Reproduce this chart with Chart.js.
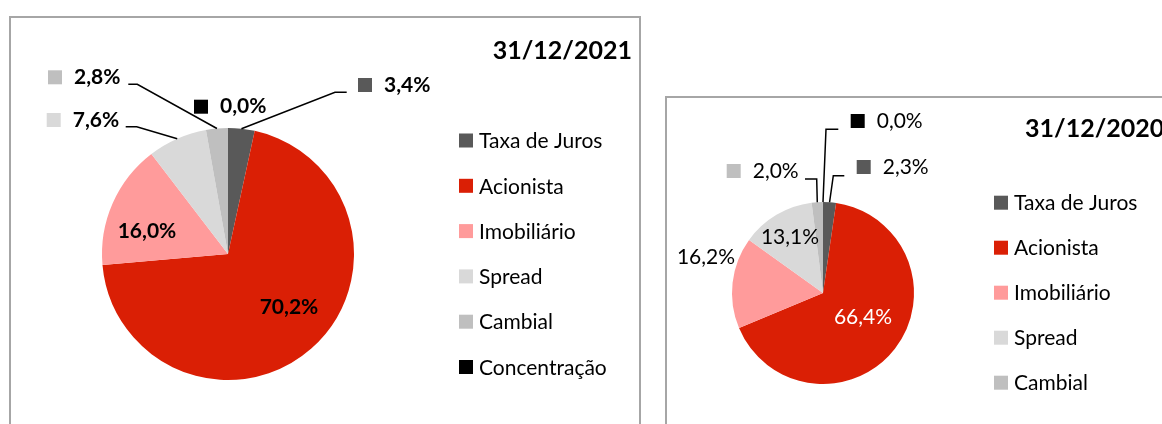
<!DOCTYPE html>
<html>
<head>
<meta charset="utf-8">
<script src="https://cdn.jsdelivr.net/npm/chart.js@4"></script>
<style>
body{margin:0;background:#fff;width:1162px;height:424px;overflow:hidden;position:relative}
.caixa{position:absolute;border:2px solid #a6a6a6;box-sizing:border-box}
canvas{position:absolute;left:0;top:0}
</style>
</head>
<body>
<div class="caixa" style="left:9px;top:16px;width:632px;height:440px"></div>
<div class="caixa" style="left:665px;top:96px;width:540px;height:360px"></div>
<canvas id="graf" width="1162" height="424"></canvas>
<canvas id="graf2" width="1162" height="424"></canvas>
<script>
const categorias = ['Taxa de Juros', 'Acionista', 'Imobiliário', 'Spread', 'Cambial', 'Concentração']
const valores2021 = [3.4, 70.2, 16.0, 7.6, 2.8, 0.0]
const valores2020 = [2.3, 66.4, 16.2, 13.1, 2.0, 0.0]
const cores = ['#595959', '#da1f05', '#ff9b9b', '#d9d9d9', '#bfbfbf', '#000000']
const titulo2021 = '31/12/2021'
const titulo2020 = '31/12/2020'

const fonte = 'Lato, "Open Sans", sans-serif'

function fmt(v){
    return v.toFixed(1).replace('.', ',') + '%'
}

// desenha rotulos, linhas guia, legenda e titulo
const rotulos = {
    id: 'rotulos',
    afterDraw(chart, args, opts){
        const ctx = chart.ctx
        const meta = chart.getDatasetMeta(0)
        const valores = chart.data.datasets[0].data
        ctx.save()
        ctx.textBaseline = 'middle'
        opts.labels.forEach((lb, i) => {
            const arc = meta.data[i]
            const texto = fmt(valores[i])
            ctx.font = opts.labelFont
            if(lb.leader){
                const mid = (arc.startAngle + arc.endAngle) / 2
                const px = arc.x + Math.cos(mid) * arc.outerRadius
                const py = arc.y + Math.sin(mid) * arc.outerRadius
                ctx.strokeStyle = '#000'
                ctx.lineWidth = 1.5
                ctx.beginPath()
                ctx.moveTo(px, py)
                lb.leader.forEach(p => ctx.lineTo(p[0], p[1]))
                ctx.stroke()
            }
            if(lb.key){
                ctx.fillStyle = cores[i]
                ctx.fillRect(lb.tx - 26, lb.ty - 7, 14, 14)
            }
            ctx.fillStyle = lb.color || '#000'
            if(lb.cx !== undefined){
                ctx.textAlign = 'center'
                ctx.fillText(texto, lb.cx, lb.cy)
            }else{
                ctx.textAlign = 'left'
                ctx.fillText(texto, lb.tx, lb.ty)
            }
        })
        // legenda
        const lg = opts.legend
        ctx.font = lg.font
        ctx.textAlign = 'left'
        categorias.slice(0, lg.itens).forEach((c, i) => {
            const cy = lg.y + lg.dy * i
            ctx.fillStyle = cores[i]
            ctx.fillRect(lg.x, cy - 7, 14, 14)
            ctx.fillStyle = '#000'
            ctx.fillText(c, lg.x + 20, cy + 1)
        })
        // titulo
        const t = opts.title
        ctx.font = t.font
        ctx.textAlign = t.align
        ctx.textBaseline = 'alphabetic'
        ctx.fillStyle = '#000'
        ctx.fillText(t.text, t.x, t.y)
        ctx.restore()
    }
}

function criaPizza(el, valores, padding, plug){
    return new Chart(el, {
        type: 'pie',
        data: {
            labels: categorias,
            datasets: [{
                data: valores,
                backgroundColor: cores,
                borderWidth: 0
            }]
        },
        options: {
            responsive: false,
            animation: false,
            events: [],
            layout: { padding: padding },
            plugins: {
                legend: { display: false },
                tooltip: { enabled: false },
                rotulos: plug
            }
        },
        plugins: [rotulos]
    })
}

let myChart = criaPizza(document.getElementById('graf'), valores2021,
    { left: 102, top: 128, right: 808, bottom: 44 },
    {
        labelFont: 'bold 21px ' + fonte,
        labels: [
            { tx: 384, ty: 85, key: true, leader: [[335, 92.3], [346.7, 92.3]] },
            { cx: 289, cy: 307 },
            { cx: 147, cy: 231 },
            { tx: 72.7, ty: 120, key: true, leader: [[136.7, 126.7], [125.7, 126.7]] },
            { tx: 74, ty: 77.3, key: true, leader: [[137.3, 84.3], [128.3, 84.3]] },
            { tx: 220, ty: 106.7, key: true }
        ],
        legend: { x: 459, y: 140.5, dy: 45.3, itens: 6, font: '21px ' + fonte },
        title: { text: titulo2021, x: 632, y: 59, align: 'right', font: 'bold 25px ' + fonte }
    })

let myChart2 = criaPizza(document.getElementById('graf2'), valores2020,
    { left: 732, top: 202, right: 248, bottom: 40 },
    {
        labelFont: '21px ' + fonte,
        labels: [
            { tx: 882.7, ty: 167, key: true, leader: [[833.3, 175.7], [844.3, 175.7]] },
            { cx: 863, cy: 317, color: '#fff' },
            { cx: 706, cy: 257 },
            { cx: 790, cy: 237 },
            { tx: 752.7, ty: 171, key: true, leader: [[816.7, 179], [805, 179]] },
            { tx: 876.7, ty: 121, key: true, leader: [[826, 129.3], [838.3, 129.3]] }
        ],
        legend: { x: 994, y: 202.7, dy: 45, itens: 5, font: '21px ' + fonte },
        title: { text: titulo2020, x: 1025, y: 137, align: 'left', font: 'bold 25px ' + fonte }
    })
</script>
</body>
</html>
